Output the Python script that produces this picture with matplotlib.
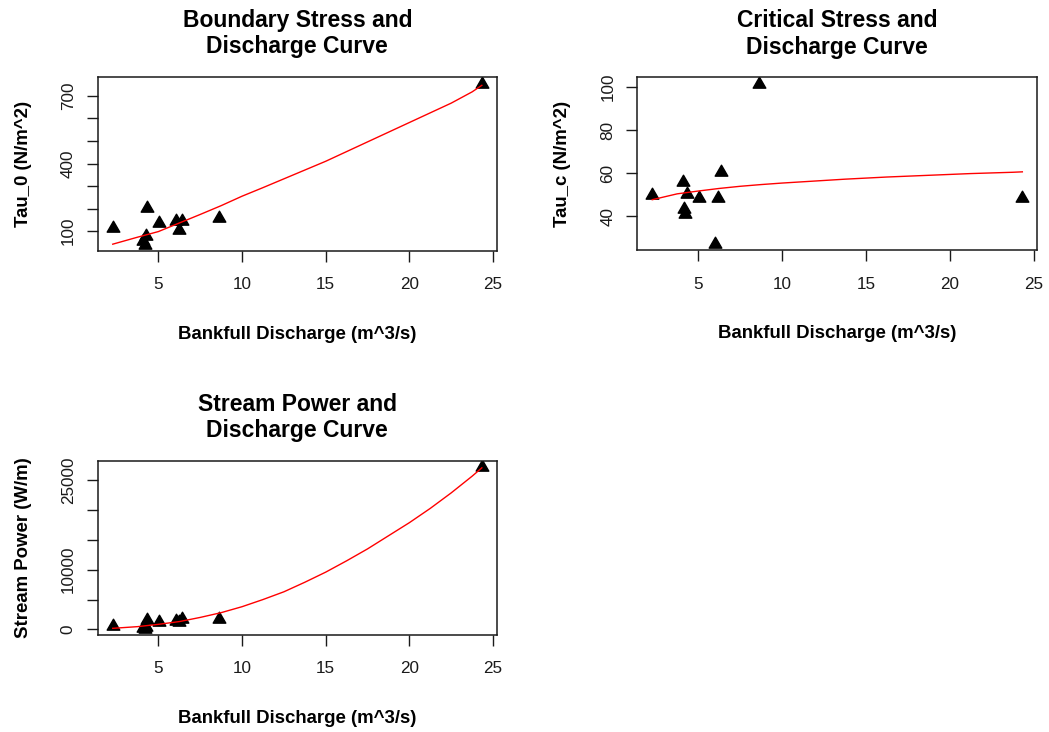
import matplotlib.pyplot as plt
from matplotlib.path import Path

plt.rcParams['font.family'] = ['Liberation Sans', 'DejaVu Sans']

# bankfull discharge of each reach (m^3/s)
discharge = [2.27, 4.08, 4.17, 4.25, 4.33, 5.04, 6.03, 6.21, 6.39, 8.62, 24.33]
tau_0 = [115, 57, 40, 80, 201, 136, 143, 106, 146, 158, 755]
tau_c = [50.0, 56.1, 43.4, 41.0, 50.3, 48.3, 27.2, 48.3, 60.7, 101.4, 48.4]
stream_power = [570, 300, 130, 450, 1620, 1170, 1400, 1170, 1730, 1730, 27200]

fit_q = [2.27, 3.75, 5, 6.25, 7.5, 8.75, 10, 11.25, 12.5, 13.75, 15, 16.25,
         17.5, 18.75, 20, 21.25, 22.5, 23.75, 24.33]
fit_tau_0 = [42, 73, 98, 136, 174, 213, 255, 293, 332, 371, 410, 453,
             496, 539, 582, 625, 668, 718, 747]
fit_tau_c = [47.7, 50.4, 51.7, 52.9, 53.9, 54.7, 55.4, 56.0, 56.6, 57.2, 57.7, 58.2,
             58.6, 59.0, 59.4, 59.8, 60.1, 60.4, 60.6]
fit_power = [170, 450, 840, 1300, 2000, 2800, 3800, 5000, 6300, 7900, 9600, 11500,
             13500, 15700, 17900, 20300, 22900, 25700, 27100]

x_ticks = [5, 10, 15, 20, 25]

# R style filled triangle (pch 17), centred on its centroid
tri = Path([(0, 1.555), (-1.347, -0.778), (1.347, -0.778), (0, 1.555)],
           [Path.MOVETO, Path.LINETO, Path.LINETO, Path.CLOSEPOLY])

fig = plt.figure(figsize=(10.49, 7.32), dpi=100)


def rlim(v):
    # R default axis range: data range plus 4% each side
    lo, hi = min(v), max(v)
    d = (hi - lo) * 0.04
    return lo - d, hi + d


def panel(rect, y, fit, title, ylabel, yticks, ylabels):
    ax = fig.add_axes(rect)
    ax.plot(discharge, y, linestyle='none', marker=tri, color='black', markersize=10.5)
    ax.plot(fit_q, fit, color='red', linewidth=1.0)
    ax.set_xticks(x_ticks)
    ax.set_yticks(yticks, ylabels)
    ax.set_xlim(rlim(discharge))
    ax.set_ylim(rlim(y))
    ax.tick_params(axis='both', direction='out', length=8, width=1, labelsize=12.3,
                   colors='#1a1a1a')
    ax.tick_params(axis='x', pad=11)
    ax.tick_params(axis='y', pad=8, labelrotation=90)
    plt.setp(ax.get_yticklabels(), va='center')
    for s in ax.spines.values():
        s.set_linewidth(1.1)
        s.set_color('#1a1a1a')
    ax.set_title(title, fontsize=16.5, fontweight='bold', pad=17, linespacing=1.2)
    ax.set_xlabel('Bankfull Discharge (m^3/s)', fontsize=13.4, fontweight='bold', labelpad=24)
    ax.set_ylabel(ylabel, fontsize=13.4, fontweight='bold', labelpad=21)
    return ax


panel([0.0934, 0.657, 0.380, 0.2377], tau_0, fit_tau_0,
      'Boundary Stress and\nDischarge Curve', 'Tau_0 (N/m^2)',
      [100, 200, 300, 400, 500, 600, 700], ['100', '', '', '400', '', '', '700'])

panel([0.6077, 0.658, 0.381, 0.2363], tau_c, fit_tau_c,
      'Critical Stress and\nDischarge Curve', 'Tau_c (N/m^2)',
      [40, 60, 80, 100], ['40', '60', '80', '100'])

panel([0.0934, 0.1325, 0.380, 0.238], stream_power, fit_power,
      'Stream Power and\nDischarge Curve', 'Stream Power (W/m)',
      [0, 5000, 10000, 15000, 20000, 25000], ['0', '', '10000', '', '', '25000'])

fig.savefig('out.png', dpi=100)
